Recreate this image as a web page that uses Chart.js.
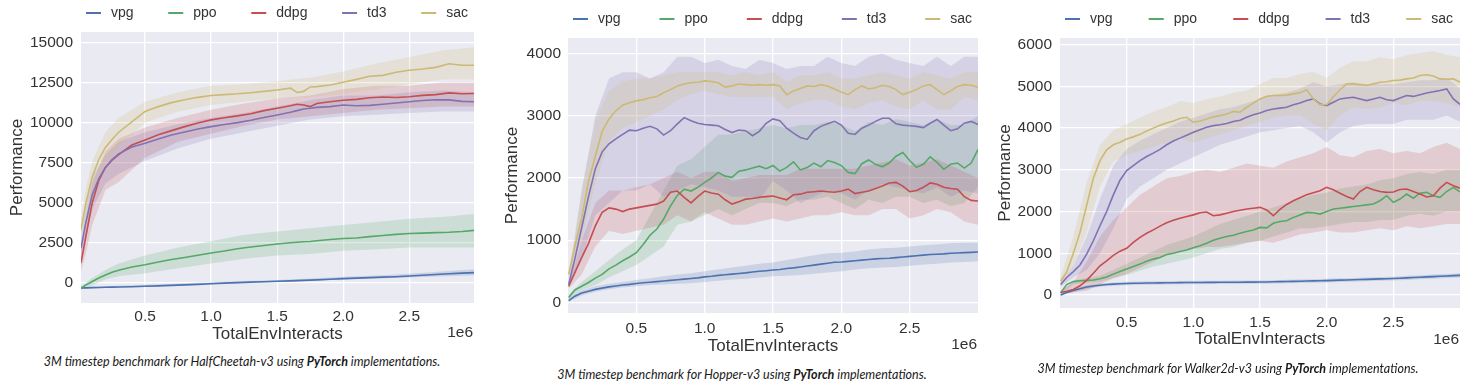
<!DOCTYPE html>
<html><head><meta charset="utf-8">
<script src="https://cdn.jsdelivr.net/npm/chart.js@4.4.1/dist/chart.umd.min.js"></script>
<style>
html,body{margin:0;padding:0;background:#fff}
body{width:1463px;height:385px;position:relative;overflow:hidden}
canvas{position:absolute;top:0}
.cap{position:absolute;font-family:Lato,"Open Sans",sans-serif;font-style:italic;font-size:12.5px;line-height:15px;color:#1a1a1a;white-space:nowrap;transform:translateX(-50%)}
.cap b{font-weight:700}
</style></head><body>
<canvas id="c1" width="490" height="350" style="left:0px"></canvas>
<canvas id="c2" width="500" height="360" style="left:490px"></canvas>
<canvas id="c3" width="483" height="355" style="left:980px"></canvas>
<div class="cap" style="left:242px;top:354px">3M timestep benchmark for HalfCheetah-v3 using <b>PyTorch</b> implementations.</div>
<div class="cap" style="left:742px;top:367px">3M timestep benchmark for Hopper-v3 using <b>PyTorch</b> implementations.</div>
<div class="cap" style="left:1228px;top:361px">3M timestep benchmark for Walker2d-v3 using <b>PyTorch</b> implementations.</div>
<script>
// ---------- shared ----------
const NAMES = ['vpg','ppo','ddpg','td3','sac'];
const COLORS = ['#4C72B0','#55A868','#C44E52','#8172B2','#CCB974'];
const X_TICKS = [0.5,1.0,1.5,2.0,2.5];
const X_TITLE = 'TotalEnvInteracts';
const Y_TITLE = 'Performance';
const OFFSET_TEXT = '1e6';

// ---------- HalfCheetah ----------
const HC_Y_TICKS = [0,2500,5000,7500,10000,12500,15000];
const HC_X = [0.015,0.05,0.1,0.15,0.2,0.25,0.3,0.4,0.5,0.6,0.7,0.8,0.9,1.0,1.1,1.2,1.3,1.4,1.5,1.6,1.65,1.7,1.75,1.8,1.9,2.0,2.1,2.2,2.3,2.4,2.5,2.6,2.7,2.8,2.9,2.99];
const HC_VPG = [-330,-320,-305,-295,-285,-275,-265,-245,-220,-195,-165,-135,-100,-60,-25,10,40,65,90,120,135,150,165,180,215,260,290,320,350,380,420,470,520,560,600,630];
const HC_PPO = [-330,-150,80,300,480,650,780,980,1120,1300,1450,1580,1720,1860,1980,2120,2230,2330,2420,2500,2530,2560,2580,2620,2700,2760,2800,2880,2950,3020,3080,3100,3130,3150,3200,3270];
const HC_DDPG = [1250,2800,5000,6400,7200,7650,8000,8600,8920,9250,9500,9750,9980,10170,10300,10420,10560,10750,10900,11050,11150,11100,11000,11200,11300,11400,11450,11550,11600,11570,11620,11700,11750,11860,11800,11820];
const HC_TD3 = [2150,3700,5500,6500,7200,7700,8050,8480,8710,8980,9230,9420,9600,9750,9880,10000,10150,10320,10480,10650,10750,10850,10900,10950,11000,11100,11050,11080,11150,11230,11300,11380,11430,11420,11330,11300];
const HC_SAC = [3300,4900,6600,7700,8450,8950,9400,10050,10700,11000,11250,11430,11580,11690,11750,11800,11870,11950,12040,12150,11880,11950,12230,12250,12350,12520,12700,12900,12950,13150,13270,13350,13450,13680,13580,13580];
const HC_BX = [0.015,0.05,0.1,0.2,0.3,0.5,0.75,1.0,1.25,1.5,1.75,2.0,2.25,2.5,2.75,2.99];
const HC_VPG_LO = [-380,-360,-350,-320,-290,-240,-170,-100,-20,30,120,200,270,330,400,450];
const HC_VPG_HI = [-280,-260,-250,-220,-190,-130,-50,30,110,170,260,380,460,560,700,850];
const HC_PPO_LO = [-400,-300,-150,200,400,600,900,1200,1500,1700,1800,2000,2100,2200,2200,2200];
const HC_PPO_HI = [-250,0,300,800,1200,1700,2200,2600,3000,3200,3400,3600,3800,4000,4100,4300];
const HC_DDPG_LO = [700,1800,3600,5800,6300,7800,8800,9300,9800,10200,10400,10600,10800,10900,11000,11000];
const HC_DDPG_HI = [1800,3800,6200,8200,9000,9700,10300,10800,11200,11500,11700,12100,12300,12300,12500,12500];
const HC_TD3_LO = [1600,2800,4600,6200,6800,7600,8400,9000,9400,9800,10200,10400,10500,10600,10700,10700];
const HC_TD3_HI = [2700,4600,6600,8000,8800,9400,9900,10300,10600,11000,11400,11700,11700,11900,12000,11900];
const HC_SAC_LO = [2700,4000,5600,7400,8500,10000,10700,11100,11300,11500,11600,11800,12100,12400,12700,12700];
const HC_SAC_HI = [3900,5800,7600,9400,10300,11300,11900,12300,12400,12600,12800,13200,13700,14100,14500,14700];

// ---------- Hopper ----------
const HOP_Y_TICKS = [0,1000,2000,3000,4000];
const HOP_X = [0.005,0.05,0.1,0.15,0.2,0.25,0.3,0.35,0.4,0.45,0.5,0.55,0.6,0.65,0.7,0.75,0.8,0.85,0.9,0.95,1.0,1.05,1.1,1.15,1.2,1.25,1.3,1.35,1.4,1.45,1.5,1.55,1.6,1.65,1.7,1.75,1.8,1.85,1.9,1.95,2.0,2.05,2.1,2.15,2.2,2.25,2.3,2.35,2.4,2.45,2.5,2.55,2.6,2.65,2.7,2.75,2.8,2.85,2.9,2.95,3.0];
const HOP_VPG = [30,100,150,180,210,230,250,265,280,290, 305,315,325,335,345,355,365,375,385,395, 410,420,435,445,455,465,475,490,500,510, 520,530,545,555,570,585,600,615,630,645, 650,660,670,680,690,700,705,710,720,730, 740,750,760,770,775,780,790,795,800,805,810];
const HOP_PPO = [80,200,260,320,390,450,540,600,670,730, 800,930,1080,1180,1340,1550,1720,1820,1790,1850, 1930,2000,2090,2030,2010,2110,2130,2160,2190,2150, 2200,2110,2170,2260,2130,2170,2240,2180,2280,2250, 2200,2090,2070,2230,2290,2220,2180,2240,2350,2410, 2280,2170,2220,2340,2250,2140,2220,2240,2160,2240,2460];
const HOP_DDPG = [260,480,720,950,1230,1450,1520,1500,1460,1500, 1520,1540,1560,1580,1630,1770,1790,1690,1600,1700, 1790,1760,1740,1650,1580,1620,1660,1670,1690,1700, 1710,1680,1650,1730,1740,1770,1780,1790,1780,1770, 1790,1820,1750,1770,1790,1830,1870,1920,1930,1870, 1780,1800,1850,1920,1900,1850,1830,1820,1700,1640,1630];
const HOP_TD3 = [290,700,1200,1700,2150,2420,2550,2630,2700,2770, 2760,2800,2830,2790,2690,2760,2870,2970,2920,2880, 2860,2850,2840,2780,2730,2770,2760,2680,2750,2880, 2950,2920,2800,2720,2650,2620,2760,2830,2870,2910, 2850,2720,2700,2800,2850,2910,2960,2960,2870,2850, 2840,2830,2810,2880,2940,2850,2760,2790,2880,2910,2860];
const HOP_SAC = [450,900,1350,1950,2350,2750,2950,3080,3170,3210, 3240,3260,3290,3310,3370,3420,3480,3510,3530,3540, 3560,3550,3530,3460,3480,3510,3500,3490,3500,3490, 3500,3480,3340,3400,3440,3480,3470,3500,3480,3430, 3380,3340,3420,3480,3430,3450,3490,3470,3420,3340, 3380,3420,3480,3500,3420,3340,3400,3470,3500,3490,3460];
const BAND_X = [0.005,0.1,0.2,0.3,0.4,0.5,0.6,0.7,0.8,0.9,1.0,1.1,1.2,1.3,1.4,1.5,1.6,1.7,1.8,1.9,2.0,2.1,2.2,2.3,2.4,2.5,2.6,2.7,2.8,2.9,3.0];
const HOP_VPG_LO = [10,110,170,210,240,260,280,290,300,310,330,350,370,380,400,420,430,440,460,480,500,530,550,560,570,590,610,620,640,650,660];
const HOP_VPG_HI = [60,190,260,300,330,360,390,420,450,470,500,530,560,590,620,640,680,720,760,790,800,820,850,870,880,900,920,930,950,960,960];
const HOP_PPO_LO = [50,200,280,400,500,600,750,900,1250,1300,1400,1500,1400,1500,1600,1600,1550,1650,1650,1700,1600,1500,1650,1600,1700,1700,1600,1650,1550,1600,1850];
const HOP_PPO_HI = [120,330,500,680,850,1000,1400,1800,2200,2300,2500,2700,2700,2750,2800,2850,2800,2850,2850,2900,2850,2750,2900,2850,2950,2900,2850,2950,2850,2850,3000];
const HOP_DDPG_LO = [220,450,900,1150,1100,1150,1200,1250,1400,1300,1450,1350,1250,1250,1300,1350,1300,1350,1400,1400,1450,1400,1400,1500,1500,1350,1400,1500,1450,1300,1250];
const HOP_DDPG_HI = [300,1000,1600,1800,1800,1850,1900,2000,2100,2000,2100,2100,1950,2000,2050,2050,2050,2150,2150,2150,2150,2150,2200,2250,2300,2200,2250,2300,2200,2100,2000];
const HOP_TD3_LO = [230,700,1400,1600,1800,1800,1900,1700,1800,1900,1850,1800,1700,1700,1650,1950,1800,1600,1700,1800,1750,1650,1800,1900,1850,1800,1750,1850,1700,1800,1750];
const HOP_TD3_HI = [350,1800,3000,3600,3700,3700,3600,3700,3950,3950,3850,3900,3800,3750,3900,3850,3750,3800,3800,3950,3850,3800,3950,4000,3900,3850,3800,3950,3800,3950,3950];
const HOP_SAC_LO = [400,1000,1900,2600,2800,2900,3000,3100,3250,3350,3400,3350,3300,3300,3300,3300,3100,3200,3250,3250,3150,3100,3200,3250,3150,3100,3250,3100,3100,3300,3250];
const HOP_SAC_HI = [500,1800,2900,3400,3550,3600,3600,3650,3700,3700,3700,3700,3650,3700,3650,3700,3550,3650,3650,3700,3600,3600,3650,3700,3650,3600,3700,3650,3600,3700,3700];

// ---------- Walker2d ----------
const WK_Y_TICKS = [0,1000,2000,3000,4000,5000,6000];
const WK_X = HOP_X;
const WK_VPG = [0,60,110,150,190,215,235,250,260,270, 275,280,283,286,288,290,292,294,296,298, 300,301,302,303,304,305,306,307,308,309, 310,313,316,320,323,326,330,334,338,341, 345,350,355,360,365,370,375,380,385,390, 395,402,410,418,425,433,440,448,455,463,470];
const WK_PPO = [50,250,320,340,350,360,390,430,500,560, 620,680,740,810,860,900,970,1000,1040,1080, 1130,1180,1240,1310,1360,1400,1430,1480,1520,1560, 1620,1610,1720,1760,1780,1860,1920,1980,1970,1940, 2000,2060,2080,2100,2120,2140,2160,2180,2260,2380, 2220,2300,2420,2320,2440,2460,2380,2340,2480,2580,2470];
const WK_DDPG = [60,90,130,220,350,520,700,820,950,1050, 1120,1260,1380,1480,1560,1650,1730,1790,1840,1880, 1920,1970,1990,1900,1920,1960,2000,2030,2060,2080, 2100,2040,1900,2050,2170,2260,2330,2400,2450,2500, 2580,2520,2440,2360,2300,2480,2580,2520,2480,2460, 2470,2530,2540,2480,2420,2350,2380,2560,2700,2620,2560];
const WK_TD3 = [250,420,560,720,980,1300,1660,2000,2400,2750, 2980,3100,3220,3320,3400,3490,3600,3690,3760,3830, 3900,3960,4020,4060,4080,4110,4160,4190,4260,4320, 4360,4420,4460,4480,4500,4560,4600,4660,4700,4580, 4540,4620,4700,4720,4740,4700,4660,4700,4740,4680, 4660,4720,4780,4760,4800,4840,4870,4900,4940,4700,4570];
const WK_SAC = [330,550,1000,1500,2150,2800,3220,3480,3600,3660, 3740,3790,3850,3930,4000,4070,4120,4170,4230,4260, 4140,4170,4220,4270,4300,4340,4400,4380,4500,4600, 4700,4760,4780,4780,4790,4820,4850,4920,4700,4560, 4560,4750,4920,5060,5060,5040,5020,5060,5100,5110, 5140,5150,5180,5200,5260,5280,5250,5180,5170,5180,5100];
const WK_VPG_LO = [-20,70,150,195,220,235,243,248,252,256,260,262,264,266,268,270,276,283,290,296,300,310,320,330,340,350,360,375,390,405,420];
const WK_VPG_HI = [30,150,230,275,300,315,323,328,332,336,340,342,344,346,348,350,356,363,370,380,390,400,410,420,430,440,460,475,490,505,520];
const WK_PPO_LO = [20,250,300,320,400,480,580,680,750,820,900,1000,1100,1150,1250,1300,1400,1500,1600,1600,1650,1700,1750,1750,1800,1800,1900,1950,1900,2000,2000];
const WK_PPO_HI = [80,350,400,460,600,750,900,1050,1200,1300,1400,1550,1700,1800,1900,2000,2100,2200,2300,2400,2450,2550,2600,2650,2750,2800,2900,2950,2900,3000,3000];
const WK_DDPG_LO = [30,60,100,250,400,500,650,800,950,1050,1100,1150,1150,1200,1250,1300,1250,1350,1450,1500,1550,1500,1500,1550,1600,1550,1650,1600,1650,1700,1700];
const WK_DDPG_HI = [100,300,800,1400,1800,2100,2400,2600,2800,2850,2950,3000,2950,3050,3150,3100,3050,3200,3300,3400,3550,3350,3300,3450,3500,3400,3450,3400,3550,3650,3500];
const WK_TD3_LO = [200,420,600,1000,1600,2300,2600,2800,3000,3150,3300,3450,3600,3700,3800,3900,3950,4000,4050,3900,3650,3900,4050,4100,4100,4100,4200,4200,4200,4300,4150];
const WK_TD3_HI = [300,700,1400,2300,3100,3500,3700,3850,4000,4150,4250,4350,4450,4500,4600,4700,4800,4850,4950,5100,5000,5050,5100,5050,5050,5050,5100,5150,5150,5200,4950];
const WK_SAC_LO = [250,700,1500,2600,3200,3350,3450,3550,3650,3750,3650,3750,3850,3950,4050,4150,4250,4300,4300,4100,3950,4300,4500,4450,4500,4600,4550,4650,4650,4600,4500];
const WK_SAC_HI = [420,1400,2700,3600,3950,4100,4250,4400,4500,4650,4600,4700,4750,4850,4900,5050,5200,5200,5300,5350,5200,5450,5600,5600,5700,5650,5750,5800,5850,5750,5700];

// ---------- drawing ----------
const FONT = "'Liberation Sans', Arial, sans-serif";
const TXT = '#333333';
const BG = '#EAEAF2';

function hexA(h,a){const n=parseInt(h.slice(1),16);return 'rgba('+(n>>16)+','+((n>>8)&255)+','+(n&255)+','+a+')';}

function makeChart(id, S, L){
  const ds = [];
  NAMES.forEach((name,i)=>{
    ds.push({label:name+'_lo', data:S.bx.map((x,j)=>({x:x,y:S.lo[i][j]})), borderWidth:0, borderColor:'rgba(0,0,0,0)', pointRadius:0, fill:false, order:20+(4-i)});
    ds.push({label:name+'_hi', data:S.bx.map((x,j)=>({x:x,y:S.hi[i][j]})), borderWidth:0, borderColor:'rgba(0,0,0,0)', pointRadius:0, fill:'-1', backgroundColor:hexA(COLORS[i],0.2), order:20+(4-i)});
  });
  NAMES.forEach((name,i)=>{
    ds.push({label:name, data:S.x.map((x,j)=>({x:x,y:S.means[i][j]})), borderColor:COLORS[i], borderWidth:1.6, pointRadius:0, fill:false, tension:0, order:1+(4-i)});
  });
  const deco = {
    id:'deco',
    beforeDraw(chart){
      const a = chart.chartArea, ctx = chart.ctx;
      ctx.save(); ctx.fillStyle = BG; ctx.fillRect(a.left, a.top, a.right-a.left, a.bottom-a.top); ctx.restore();
    },
    afterDraw(chart){
      const a = chart.chartArea, ctx = chart.ctx;
      ctx.save();
      ctx.font = '14px ' + FONT;
      const lineW = 15, gapLT = 10;
      const widths = NAMES.map(n => lineW + gapLT + ctx.measureText(n).width);
      const total = widths.reduce((p,c)=>p+c,0);
      const span = (a.right - L.legR) - (a.left + L.legL);
      const gap = (span - total) / (NAMES.length - 1);
      let x = a.left + L.legL;
      const y = a.top - L.legUp;
      NAMES.forEach((n,i)=>{
        ctx.fillStyle = COLORS[i];
        ctx.fillRect(x, y-1, lineW, 2);
        ctx.fillStyle = TXT; ctx.textBaseline = 'middle'; ctx.textAlign = 'left';
        ctx.fillText(n, x + lineW + gapLT, y);
        x += widths[i] + gap;
      });
      ctx.font = '15.5px ' + FONT;
      ctx.textAlign = 'right'; ctx.textBaseline = 'middle'; ctx.fillStyle = TXT;
      ctx.fillText(OFFSET_TEXT, a.right - 1, a.bottom + L.offY);
      ctx.restore();
    }
  };
  return new Chart(document.getElementById(id), {
    type:'line',
    data:{datasets:ds},
    options:{
      responsive:false, animation:false, events:[],
      layout:{padding:{left:0, top:L.top, right:L.right, bottom:0}},
      plugins:{legend:{display:false}, tooltip:{enabled:false}},
      scales:{
        x:{type:'linear', min:S.xMin, max:S.xMax,
          afterBuildTicks:s=>{s.ticks = X_TICKS.map(v=>({value:v}));},
          afterFit:s=>{s.height = L.xH;},
          ticks:{font:{family:FONT,size:15.5}, color:TXT, padding:L.xPad, maxRotation:0, autoSkip:false, callback:v=>Number(v).toFixed(1)},
          grid:{color:'#ffffff', lineWidth:1.3, drawTicks:false},
          border:{display:false},
          title:{display:true, text:X_TITLE, font:{family:FONT,size:17}, color:TXT, padding:{top:0,bottom:L.xTitlePad}}
        },
        y:{type:'linear', min:S.yMin, max:S.yMax,
          afterBuildTicks:s=>{s.ticks = S.yTicks.map(v=>({value:v}));},
          afterFit:s=>{s.width = L.yW;},
          ticks:{font:{family:FONT,size:15.5}, color:TXT, padding:L.yPad, autoSkip:false, callback:v=>String(v)},
          grid:{color:'#ffffff', lineWidth:1.3, drawTicks:false},
          border:{display:false},
          title:{display:true, text:Y_TITLE, font:{family:FONT,size:17}, color:TXT, padding:{top:L.yTitlePad,bottom:0}}
        }
      }
    },
    plugins:[deco]
  });
}

makeChart('c1', {
  x:HC_X, means:[HC_VPG,HC_PPO,HC_DDPG,HC_TD3,HC_SAC],
  bx:HC_BX, lo:[HC_VPG_LO,HC_PPO_LO,HC_DDPG_LO,HC_TD3_LO,HC_SAC_LO], hi:[HC_VPG_HI,HC_PPO_HI,HC_DDPG_HI,HC_TD3_HI,HC_SAC_HI],
  yTicks:HC_Y_TICKS, xMin:0.015, xMax:2.99, yMin:-1264, yMax:15660
}, {top:32, right:16, yW:81, xH:47, xPad:4, yPad:8, xTitlePad:5, yTitlePad:7, legL:5, legR:6, legUp:19, offY:30});

makeChart('c2', {
  x:HOP_X, means:[HOP_VPG,HOP_PPO,HOP_DDPG,HOP_TD3,HOP_SAC],
  bx:BAND_X, lo:[HOP_VPG_LO,HOP_PPO_LO,HOP_DDPG_LO,HOP_TD3_LO,HOP_SAC_LO], hi:[HOP_VPG_HI,HOP_PPO_HI,HOP_DDPG_HI,HOP_TD3_HI,HOP_SAC_HI],
  yTicks:HOP_Y_TICKS, xMin:0, xMax:3.0, yMin:-170, yMax:4250
}, {top:38, right:12, yW:78, xH:47, xPad:6, yPad:7, xTitlePad:3, yTitlePad:12, legL:5, legR:6, legUp:19, offY:32});

makeChart('c3', {
  x:WK_X, means:[WK_VPG,WK_PPO,WK_DDPG,WK_TD3,WK_SAC],
  bx:BAND_X, lo:[WK_VPG_LO,WK_PPO_LO,WK_DDPG_LO,WK_TD3_LO,WK_SAC_LO], hi:[WK_VPG_HI,WK_PPO_HI,WK_DDPG_HI,WK_TD3_HI,WK_SAC_HI],
  yTicks:WK_Y_TICKS, xMin:0, xMax:3.0, yMin:-312, yMax:6160
}, {top:38, right:3, yW:80, xH:47, xPad:5, yPad:8, xTitlePad:5, yTitlePad:15, legL:5, legR:7, legUp:19, offY:32});
</script>
</body></html>
